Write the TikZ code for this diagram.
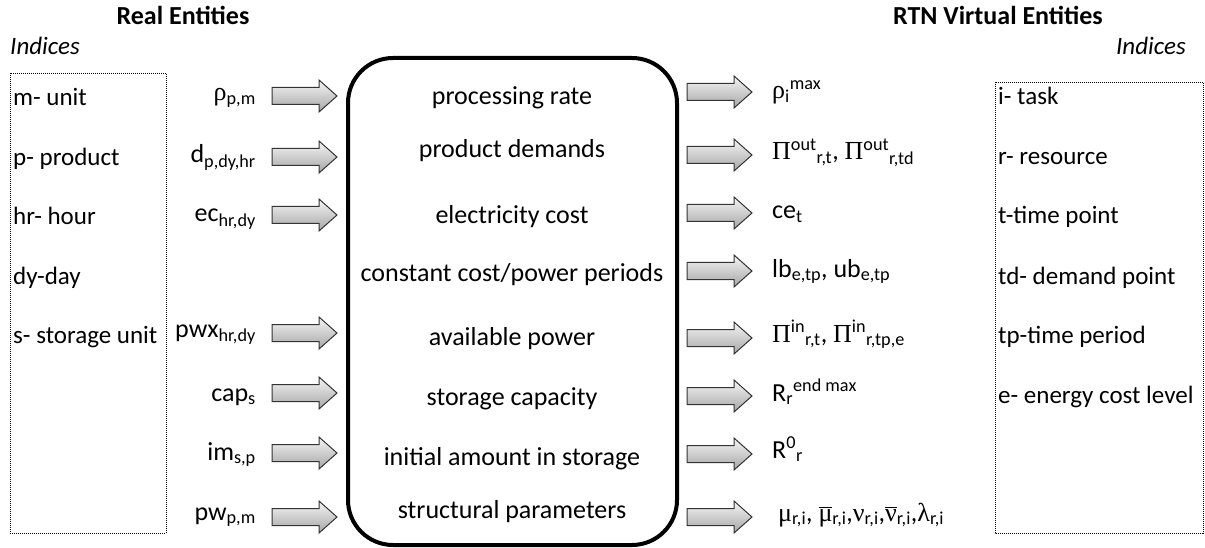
\documentclass[tikz,border=0pt]{standalone}
\usepackage{fontspec}
\setmainfont{Carlito}
\newfontfamily\gr{Liberation Serif}
\newcommand\ovl[1]{$\overline{\hbox{#1}}$}
\newcommand\blockarr[2]{%
  \draw[blockarrow] (#1,#2-8.5) -- (#1+47,#2-8.5) -- (#1+47,#2-16) -- (#1+65,#2)
    -- (#1+47,#2+16) -- (#1+47,#2+8.5) -- (#1,#2+8.5) -- cycle;}
\tikzset{
  txt/.style={font=\fontsize{25}{29}\selectfont, inner sep=0pt},
  midfont/.style={font=\fontsize{26}{30}\selectfont, inner sep=0pt},
  lefttxt/.style={txt, anchor=base west},
  leftlab/.style={midfont, anchor=base west},
  righttxt/.style={midfont, anchor=base east},
  midtxt/.style={midfont, anchor=base},
  title/.style={font=\fontsize{26}{30}\selectfont\bfseries, inner sep=0pt, anchor=base},
  idxtitle/.style={font=\fontsize{25}{29}\selectfont\itshape, inner sep=0pt},
  dotbox/.style={draw=black, line width=0.9pt, dash pattern=on 1pt off 1pt},
  mainbox/.style={draw=black, line width=4pt, rounded corners=45pt},
  blockarrow/.style={draw=black!80, line width=1pt, top color=black!4, bottom color=black!35}
}
\begin{document}
\begin{tikzpicture}[x=1pt,y=-1pt]
\useasboundingbox (0,0) rectangle (1205,548);
% titles
\node[title] (tl) at (183,25) {Real Entities};
\node[title] (tr) at (998,25) {RTN Virtual Entities};
\node[idxtitle, anchor=base west] (il) at (10,55) {Indices};
\node[idxtitle, anchor=base east] (ir) at (1186,55) {Indices};
% boxes
\draw[dotbox] (10,73) rectangle (166,533);
\draw[dotbox] (995,82) rectangle (1203,533);
\draw[mainbox] (348,58) rectangle (677,545);
% left indices
\node[lefttxt] (l1) at (13,106) {m- unit};
\node[lefttxt] (l2) at (13,166) {p- product};
\node[lefttxt] (l3) at (13,225) {hr- hour};
\node[lefttxt] (l4) at (13,284) {dy-day};
\node[lefttxt] (l5) at (13,343) {s- storage unit};
% right indices
\node[lefttxt] (r1) at (998,105) {i- task};
\node[lefttxt] (r2) at (998,165) {r- resource};
\node[lefttxt] (r3) at (998,224) {t-time point};
\node[lefttxt] (r4) at (998,284) {td- demand point};
\node[lefttxt] (r5) at (998,343) {tp-time period};
\node[lefttxt] (r6) at (998,403) {e- energy cost level};
% left parameters
\node[righttxt] (p1) at (256,101) {{\gr ρ}\textsubscript{p,m}};
\node[righttxt] (p2) at (256,163) {d\textsubscript{p,dy,hr}};
\node[righttxt] (p3) at (256,222) {ec\textsubscript{hr,dy}};
\node[righttxt] (p5) at (256,337) {pwx\textsubscript{hr,dy}};
\node[righttxt] (p6) at (256,401) {cap\textsubscript{s}};
\node[righttxt] (p7) at (256,460) {im\textsubscript{s,p}};
\node[righttxt] (p8) at (256,520) {pw\textsubscript{p,m}};
% centre texts
\node[midtxt] (c1) at (512,105) {processing rate};
\node[midtxt] (c2) at (512,158) {product demands};
\node[midtxt] (c3) at (512,224) {electricity cost};
\node[midtxt] (c4) at (512,281) {constant cost/power periods};
\node[midtxt] (c5) at (512,345) {available power};
\node[midtxt] (c6) at (512,405) {storage capacity};
\node[midtxt] (c7) at (512,465) {initial amount in storage};
\node[midtxt] (c8) at (512,518) {structural parameters};
% right parameters
\node[leftlab] (v1) at (772,99) {{\gr ρ}\textsubscript{i}\textsuperscript{max}};
\node[leftlab] (v2) at (772,160) {{\gr Π}\textsuperscript{out}\textsubscript{r,t}, {\gr Π}\textsuperscript{out}\textsubscript{r,td}};
\node[leftlab] (v3) at (772,219) {ce\textsubscript{t}};
\node[leftlab] (v4) at (772,277) {lb\textsubscript{e,tp}, ub\textsubscript{e,tp}};
\node[leftlab] (v5) at (772,342) {{\gr Π}\textsuperscript{in}\textsubscript{r,t}, {\gr Π}\textsuperscript{in}\textsubscript{r,tp,e}};
\node[leftlab] (v6) at (772,401) {R\textsubscript{r}\textsuperscript{end max}};
\node[leftlab] (v7) at (772,458) {R\textsuperscript{0}\textsubscript{r}};
\node[leftlab] (v8) at (778,521) {{\gr μ}\textsubscript{r,i}, \ovl{\gr μ}\textsubscript{r,i},{\gr ν}\textsubscript{r,i},\ovl{\gr ν}\textsubscript{r,i},{\gr λ}\textsubscript{r,i}};
% left arrows
\blockarr{272}{96}
\blockarr{272}{157}
\blockarr{272}{215}
\blockarr{272}{333}
\blockarr{272}{393}
\blockarr{272}{453}
\blockarr{272}{517}
% right arrows
\blockarr{687}{92}
\blockarr{687}{155}
\blockarr{687}{213}
\blockarr{687}{271}
\blockarr{687}{338}
\blockarr{687}{396}
\blockarr{687}{454}
\blockarr{687}{517}
\end{tikzpicture}
\end{document}
